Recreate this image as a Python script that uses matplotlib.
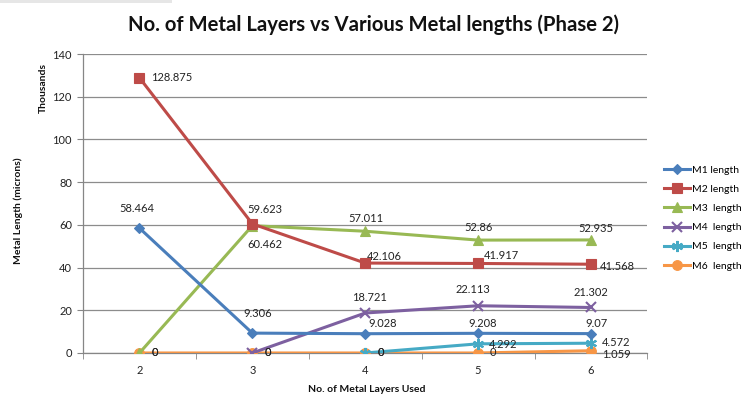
import numpy as np
import matplotlib
matplotlib.use("Agg")
import matplotlib.pyplot as plt
from matplotlib.ticker import FixedLocator
from matplotlib.patches import Rectangle

plt.rcParams['font.family'] = ['Lato', 'DejaVu Sans']

# Metal layers used (categories) and lengths in thousands of microns
layers = [2, 3, 4, 5, 6]
m1 = [58.464, 9.306, 9.028, 9.208, 9.07]
m2 = [128.875, 60.462, 42.106, 41.917, 41.568]
m3 = [0, 59.623, 57.011, 52.86, 52.935]
m4 = [np.nan, 0, 18.721, 22.113, 21.302]
m5 = [np.nan, np.nan, 0, 4.292, 4.572]
m6 = [0, 0, 0, 0, 1.059]
names = ["M1 length", "M2 length", "M3  length", "M4  length", "M5  length", "M6  length"]

colors = ["#4A7EBB", "#BE4B48", "#98B954", "#7D60A0", "#46AAC5", "#F79646"]
markers = ["D", "s", "^", "x", (6, 2, 0), "o"]
msizes = [5, 7, 7, 7, 8, 7]

# label offsets in pixels (dx, dy, ha)
offs = {
    0: [(-3, 20, 'center'), (5, 20, 'center'), (3, 10, 'left'), (5, 10, 'center'), (6, 10, 'center')],
    1: [(12, 0, 'left'), (13, -21, 'center'), (2, 7, 'left'), (6, 8, 'left'), (9, -2, 'left')],
    2: [(12, 0, 'left'), (13, 16, 'center'), (1, 13, 'center'), (0, 13, 'center'), (5, 11, 'center')],
    3: [None, (12, 0, 'left'), (4, 16, 'center'), (-5, 16, 'center'), (0, 15, 'center')],
    4: [None, None, (12, 0, 'left'), (11, -1, 'left'), (11, 1, 'left')],
    5: [(12, 0, 'left'), (12, 0, 'left'), (12, 0, 'left'), (12, 0, 'left'), (11, -4, 'left')],
}

fig = plt.figure(figsize=(7.48, 3.98), dpi=100)
fig.patches.append(Rectangle((0, 0.992), 0.23, 0.008, transform=fig.transFigure,
                             facecolor="#e6e6e6", edgecolor="none"))
ax = fig.add_axes([0.111, 0.1131, 0.7545, 0.7512])

series = [m1, m2, m3, m4, m5, m6]
for i, vals in enumerate(series):
    mew = 1.5 if markers[i] in ("x",) or isinstance(markers[i], tuple) else 0.8
    ax.plot(layers, vals, color=colors[i], lw=2.2, marker=markers[i],
            markersize=msizes[i], markeredgewidth=mew, markeredgecolor=colors[i],
            label=names[i], zorder=3 + (5 - i) * 0.1)
    for j, v in enumerate(vals):
        o = offs[i][j]
        if o is None or np.isnan(v):
            continue
        txt = "0" if v == 0 else f"{v:g}"
        ax.annotate(txt, (layers[j], v), xytext=(o[0], o[1]), textcoords='offset pixels',
                    ha=o[2], va='center', fontsize=8, color="#222222", zorder=6)

ax.set_xlim(1.5, 6.5)
ax.set_ylim(0, 140)
ax.set_yticks(np.arange(0, 141, 20))
ax.set_xticks(layers)
ax.xaxis.set_minor_locator(FixedLocator(np.arange(1.5, 6.6, 1.0)))
ax.tick_params(axis='x', which='major', length=0, pad=9, labelsize=8, labelcolor="#222222")
ax.tick_params(axis='x', which='minor', length=4, color="#868686", direction='out')
ax.tick_params(axis='y', length=4, color="#868686", labelsize=8, labelcolor="#222222", pad=4)
ax.grid(axis='y', color="#8c8c8c", lw=0.9)
ax.set_axisbelow(True)
for s in ("top", "right"):
    ax.spines[s].set_visible(False)
for s in ("left", "bottom"):
    ax.spines[s].set_color("#868686")
    ax.spines[s].set_linewidth(0.9)

fig.text(0.5, 0.937, "No. of Metal Layers vs Various Metal lengths (Phase 2)",
         ha='center', va='center', fontsize=14.6, fontweight='bold', color="#111111")
fig.text(0.49, 0.022, "No. of Metal Layers Used", ha='center', va='center',
         fontsize=7.5, fontweight='bold', color="#111111")
fig.text(0.024, 0.47, "Metal Length (microns)", rotation=90, ha='center', va='center',
         fontsize=7.5, fontweight='bold', color="#111111")
fig.text(0.058, 0.78, "Thousands", rotation=90, ha='center', va='center',
         fontsize=7.5, fontweight='bold', color="#111111")

leg = fig.legend(loc='upper left', bbox_to_anchor=(0.882, 0.595), frameon=False,
                 fontsize=7.5, handlelength=2.5, labelspacing=0.95, handletextpad=0.2,
                 borderaxespad=0)

fig.savefig("out.png", dpi=100)
